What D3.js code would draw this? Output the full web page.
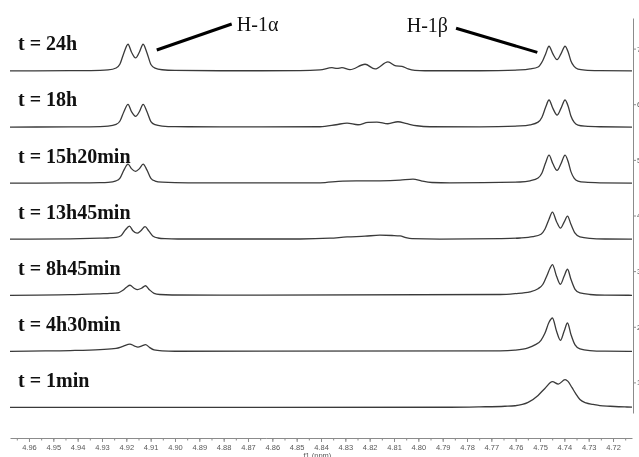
<!DOCTYPE html>
<html>
<head>
<meta charset="utf-8">
<script src="https://cdn.jsdelivr.net/npm/d3@7"></script>
<style>
  html, body { margin: 0; padding: 0; background: #fff; overflow: hidden; }
</style>
</head>
<body>
<div id="nmr-container"></div>
<script>
// time points, bottom spectrum first
const timeLabels = ["t = 1min", "t = 4h30min", "t = 8h45min", "t = 13h45min", "t = 15h20min", "t = 18h", "t = 24h"];

// [ppm, intensity (a.u.)]
const spectrum1min = [
  [4.9678, 0], [4.7870, 0.2], [4.7747, 0.6], [4.7644, 1.2], [4.7603, 1.7], [4.7549, 5], [4.7508, 12],
  [4.7480, 19], [4.7449, 25.7], [4.7425, 23.3], [4.7397, 27.7], [4.7385, 26], [4.7369, 20], [4.7354, 14],
  [4.7336, 8], [4.7311, 4.5], [4.7282, 3], [4.7254, 1.8], [4.7212, 1.2], [4.7151, 0.5], [4.7122, 0.3]
];
const spectrum4h30 = [
  [4.9678, 0], [4.9600, 0.3], [4.9431, 0.8], [4.9308, 1.8], [4.9242, 3], [4.9214, 5], [4.9185, 7.3],
  [4.9168, 5.5], [4.9152, 4.3], [4.9136, 5.5], [4.9121, 6.8], [4.9105, 4], [4.9086, 1.5], [4.9053, 0.5],
  [4.9000, 0.1], [4.7664, 0.5], [4.7603, 1.2], [4.7549, 3.5], [4.7521, 6.5], [4.7496, 11], [4.7480, 18],
  [4.7463, 29], [4.7449, 33.3], [4.7432, 20], [4.7416, 11], [4.7401, 20], [4.7387, 28.3], [4.7373, 17],
  [4.7356, 6.5], [4.7336, 2.5], [4.7295, 0.8], [4.7233, 0.2], [4.7122, 0]
];
const spectrum8h45 = [
  [4.9678, 0], [4.9431, 0.6], [4.9353, 1.2], [4.9308, 1.5], [4.9267, 1.8], [4.9234, 2.5], [4.9214, 5],
  [4.9199, 8], [4.9185, 10], [4.9168, 7], [4.9154, 5.7], [4.9138, 7], [4.9121, 9.5], [4.9105, 5.5],
  [4.9086, 2], [4.9062, 0.8], [4.9012, 0.3], [4.8815, 0.1], [4.7664, 0.8], [4.7603, 1.7], [4.7541, 3.5],
  [4.7508, 6.5], [4.7488, 11], [4.7471, 20], [4.7459, 27], [4.7449, 30.7], [4.7432, 19], [4.7416, 11],
  [4.7401, 19], [4.7387, 26], [4.7373, 16], [4.7356, 6], [4.7336, 2.3], [4.7295, 0.8], [4.7233, 0.2], [4.7122, 0]
];
const spectrum13h45 = [
  [4.9678, 0], [4.9431, 0.4], [4.9308, 1.0], [4.9275, 1.2], [4.9242, 1.8], [4.9222, 3.5], [4.9205, 9],
  [4.9187, 13], [4.9173, 8.5], [4.9156, 6], [4.9140, 8.5], [4.9123, 12.5], [4.9107, 8], [4.9090, 3],
  [4.9070, 1.2], [4.9041, 0.5], [4.8988, 0.2], [4.8486, 0.2], [4.8363, 1.0], [4.8293, 2.3], [4.8219, 3.0],
  [4.8158, 4.0], [4.8108, 3.7], [4.8075, 3.3], [4.8051, 1.5], [4.8026, 0.5], [4.7911, 0.1], [4.7664, 0.6],
  [4.7582, 1.2], [4.7529, 2.5], [4.7496, 5], [4.7480, 10], [4.7463, 20], [4.7449, 27], [4.7432, 17.5],
  [4.7416, 11], [4.7401, 17], [4.7387, 23], [4.7373, 15], [4.7356, 6], [4.7336, 2.3], [4.7295, 0.8],
  [4.7233, 0.2], [4.7122, 0]
];
const spectrum15h20 = [
  [4.9678, 0], [4.9431, 0.2], [4.9308, 0.5], [4.9275, 0.8], [4.9242, 2.3], [4.9226, 5], [4.9210, 13],
  [4.9193, 19], [4.9179, 14.5], [4.9162, 11.7], [4.9146, 14.5], [4.9131, 19], [4.9115, 13], [4.9099, 4.8],
  [4.9082, 2.1], [4.9053, 0.9], [4.9000, 0.4], [4.8815, 0.2], [4.8404, 0.3], [4.8310, 2.0], [4.8240, 2.2],
  [4.8158, 2.3], [4.8075, 3.0], [4.8022, 4.0], [4.7985, 2], [4.7944, 0.6], [4.7870, 0.2], [4.7582, 1.1],
  [4.7541, 2.3], [4.7508, 5.1], [4.7492, 10.2], [4.7477, 20.4], [4.7463, 28], [4.7447, 19.3], [4.7430, 12.7],
  [4.7414, 19.3], [4.7397, 28], [4.7383, 20.4], [4.7373, 11.5], [4.7360, 5.1], [4.7344, 2.1], [4.7315, 0.9],
  [4.7254, 0.3], [4.7122, 0]
];
const spectrum18h = [
  [4.9678, 0], [4.9431, 0.2], [4.9308, 0.5], [4.9275, 0.9], [4.9242, 2.6], [4.9226, 6], [4.9210, 15.3],
  [4.9193, 22.7], [4.9179, 15.5], [4.9162, 10.7], [4.9146, 15.5], [4.9131, 22.7], [4.9115, 15.3], [4.9099, 5.5],
  [4.9082, 2.4], [4.9053, 1.0], [4.9000, 0.4], [4.8815, 0.2], [4.8404, 0.3], [4.8338, 2.3], [4.8293, 4],
  [4.8248, 2.3], [4.8207, 4.7], [4.8170, 5], [4.8125, 3.3], [4.8084, 5.3], [4.8047, 3.3], [4.8006, 1.3],
  [4.7952, 0.3], [4.7747, 0.2], [4.7582, 1.1], [4.7541, 2.2], [4.7508, 4.9], [4.7492, 9.8], [4.7477, 19.7],
  [4.7463, 27], [4.7447, 18.6], [4.7430, 12], [4.7414, 18.6], [4.7397, 27], [4.7383, 19.7], [4.7373, 11],
  [4.7360, 4.9], [4.7344, 2], [4.7315, 0.9], [4.7254, 0.3], [4.7122, 0]
];
const spectrum24h = [
  [4.9678, 0], [4.9431, 0.3], [4.9308, 0.6], [4.9275, 1.0], [4.9242, 3.0], [4.9226, 7.0], [4.9210, 18],
  [4.9193, 26.7], [4.9179, 19], [4.9162, 13], [4.9146, 19], [4.9131, 26.7], [4.9115, 18], [4.9099, 6.5],
  [4.9082, 2.8], [4.9053, 1.2], [4.9000, 0.5], [4.8815, 0.2], [4.8486, 0.3], [4.8404, 1.0], [4.8355, 3.3],
  [4.8334, 2.5], [4.8314, 3.3], [4.8281, 1.3], [4.8219, 6.7], [4.8178, 2.0], [4.8125, 9], [4.8092, 5.0],
  [4.8067, 4.6], [4.8042, 2.0], [4.8014, 0.6], [4.7973, 0.2], [4.7747, 0.2], [4.7582, 1.0], [4.7541, 2.0],
  [4.7508, 4.0], [4.7488, 10.7], [4.7477, 17], [4.7463, 24.7], [4.7447, 17], [4.7430, 11.3], [4.7414, 17],
  [4.7397, 24.7], [4.7383, 18], [4.7373, 10], [4.7360, 4.5], [4.7344, 1.8], [4.7315, 0.8], [4.7254, 0.3],
  [4.7122, 0]
];
const spectra = [spectrum1min, spectrum4h30, spectrum8h45, spectrum13h45, spectrum15h20, spectrum18h, spectrum24h];

// axis ticks
const ppmTicks = [4.96, 4.95, 4.94, 4.93, 4.92, 4.91, 4.90, 4.89, 4.88, 4.87, 4.86, 4.85, 4.84,
  4.83, 4.82, 4.81, 4.80, 4.79, 4.78, 4.77, 4.76, 4.75, 4.74, 4.73, 4.72];
const stackTicks = [1, 2, 3, 4, 5, 6, 7];

// peak assignments: label, text anchor [ppm, stack], leader line [[ppm, stack], [ppm, stack]]
const peakNames = ["H-1α", "H-1β"];
const peakTextAt = [[4.8746, 7.316], [4.7878, 7.307]];
const peakLeaders = [
  [[4.9075, 6.975], [4.8767, 7.442]],
  [[4.7845, 7.365], [4.7511, 6.933]]
];

class StackedNmrChart {
  constructor() {
    const attrs = {
      container: "#nmr-container",
      svgWidth: 639,
      svgHeight: 457,
      plotLeft: 10,
      plotRight: 632,
      plotTop: 18,
      plotBottom: 413,
      xAxisY: 438,
      yAxisX: 633,
      ppmDomain: [4.9678, 4.7122],
      stackDomain: [0.45, 7.55],
      stackBase: 0.55,
      stackStep: 1.008,
      intensityToStack: 0.018,
      labelLift: 0.37,
      lineColor: "#3a3a3a",
      axisColor: "#8a8a8a",
      axisTextColor: "#555",
      serifFont: "'Liberation Serif', 'Times New Roman', serif",
      sansFont: "'Liberation Sans', Arial, sans-serif",
    };
    this.getState = () => attrs;
    this.setState = (d) => Object.assign(attrs, d);
  }

  render() {
    this.drawSvg();
    this.drawAxes();
    this.drawSpectra();
    this.drawAnnotations();
    return this;
  }

  drawSvg() {
    const { container, svgWidth, svgHeight, plotLeft, plotRight, plotTop, plotBottom, ppmDomain, stackDomain } =
      this.getState();

    const svg = d3.select(container)
      .append("svg")
      .attr("width", svgWidth)
      .attr("height", svgHeight)
      .style("display", "block");

    const x = d3.scaleLinear().domain(ppmDomain).range([plotLeft, plotRight]);
    const y = d3.scaleLinear().domain(stackDomain).range([plotBottom, plotTop]);

    this.setState({ svg, x, y });
  }

  drawAxes() {
    const { svg, x, y, xAxisY, yAxisX, axisColor, axisTextColor, sansFont } = this.getState();

    // small text in its own group, drawn greyscale
    const axes = svg.append("g").style("opacity", 0.99);

    // minor ticks every 0.005 ppm
    const minorTicks = d3.range(4.965, 4.7125, -0.005).map((d) => +d.toFixed(3));
    axes.append("g")
      .attr("transform", `translate(0,${xAxisY})`)
      .call(d3.axisBottom(x).tickValues(minorTicks).tickSize(2.5).tickSizeOuter(0).tickFormat(""))
      .call((g) => g.select(".domain").remove())
      .call((g) => g.selectAll("line").attr("stroke", axisColor));

    const xAxis = axes.append("g")
      .attr("transform", `translate(0,${xAxisY})`)
      .call(d3.axisBottom(x).tickValues(ppmTicks).tickSize(4).tickSizeOuter(0)
        .tickPadding(3).tickFormat(d3.format(".2f")));
    xAxis.selectAll("path, line").attr("stroke", axisColor);
    xAxis.selectAll("text")
      .attr("fill", axisTextColor)
      .style("font-family", sansFont)
      .style("font-size", "7.5px");

    axes.append("text")
      .attr("x", x(4.8415))
      .attr("y", 457.5)
      .attr("text-anchor", "middle")
      .attr("fill", axisTextColor)
      .style("font-family", sansFont)
      .style("font-size", "7.5px")
      .text("f1 (ppm)");

    const yAxis = axes.append("g")
      .attr("transform", `translate(${yAxisX},0)`)
      .call(d3.axisRight(y).tickValues(stackTicks).tickSize(3).tickSizeOuter(0).tickPadding(1));
    yAxis.selectAll("path, line").attr("stroke", axisColor);
    yAxis.selectAll("text")
      .attr("fill", axisTextColor)
      .style("font-family", sansFont)
      .style("font-size", "7.5px");
  }

  drawSpectra() {
    const { svg, x, y, stackBase, stackStep, intensityToStack, labelLift, lineColor, serifFont } =
      this.getState();

    const line = d3.line()
      .x((d) => x(d[0]))
      .y((d) => y(d.base + d[1] * intensityToStack))
      .curve(d3.curveMonotoneX);

    const rows = spectra.map((points, i) => {
      const base = stackBase + i * stackStep;
      return {
        label: timeLabels[i],
        base,
        points: points.map((p) => Object.assign([p[0], p[1]], { base })),
      };
    });

    svg.append("g")
      .selectAll("path")
      .data(rows)
      .join("path")
      .attr("d", (d) => line(d.points))
      .attr("fill", "none")
      .attr("stroke", lineColor)
      .attr("stroke-width", 1.3);

    svg.append("g")
      .selectAll("text")
      .data(rows)
      .join("text")
      .attr("x", 18)
      .attr("y", (d) => y(d.base + labelLift))
      .style("font-family", serifFont)
      .style("font-weight", "bold")
      .style("font-size", "20px")
      .attr("fill", "#111")
      .text((d) => d.label);
  }

  drawAnnotations() {
    const { svg, x, y, serifFont } = this.getState();

    svg.append("g")
      .selectAll("line")
      .data(peakLeaders)
      .join("line")
      .attr("x1", (d) => x(d[0][0]))
      .attr("y1", (d) => y(d[0][1]))
      .attr("x2", (d) => x(d[1][0]))
      .attr("y2", (d) => y(d[1][1]))
      .attr("stroke", "#000")
      .attr("stroke-width", 3);

    svg.append("g")
      .selectAll("text")
      .data(peakNames)
      .join("text")
      .attr("x", (d, i) => x(peakTextAt[i][0]))
      .attr("y", (d, i) => y(peakTextAt[i][1]))
      .attr("text-anchor", (d, i) => (i === 0 ? "start" : "end"))
      .style("font-family", serifFont)
      .style("font-size", "20px")
      .attr("fill", "#111")
      .text((d) => d);
  }
}

new StackedNmrChart().render();
</script>
</body>
</html>
